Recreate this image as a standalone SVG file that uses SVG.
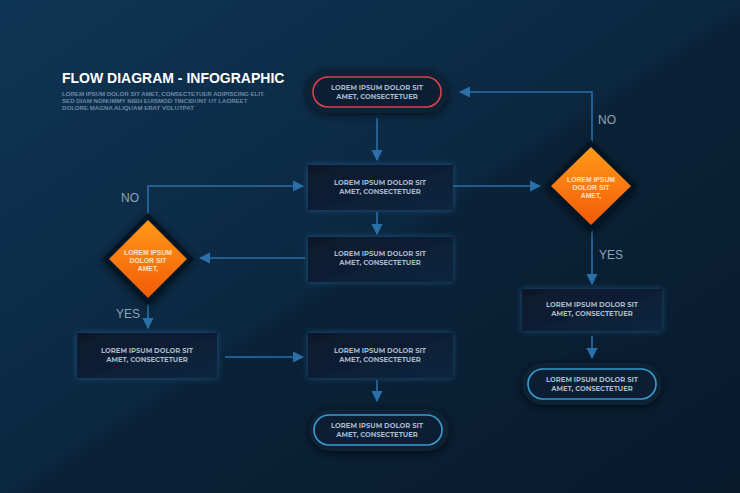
<svg xmlns="http://www.w3.org/2000/svg" width="740" height="493" viewBox="0 0 740 493">
<defs>
<linearGradient id="bg" x1="0" y1="0" x2="1" y2="1">
<stop offset="0" stop-color="#0f3554"/><stop offset="0.5" stop-color="#0b2740"/><stop offset="0.52" stop-color="#0a2238"/><stop offset="1" stop-color="#081a2c"/>
</linearGradient>
<linearGradient id="box" x1="0" y1="0" x2="1" y2="1"><stop offset="0" stop-color="#07182a"/><stop offset="1" stop-color="#0c2640"/></linearGradient>
<linearGradient id="dia" x1="0" y1="0" x2="0" y2="1"><stop offset="0" stop-color="#ff9a1a"/><stop offset="1" stop-color="#f25a06"/></linearGradient>
<filter id="glow" x="-30%" y="-30%" width="160%" height="160%"><feDropShadow dx="0" dy="0" stdDeviation="3" flood-color="#2a6fa8" flood-opacity="0.6"/></filter>
<filter id="sh" x="-30%" y="-30%" width="160%" height="160%"><feDropShadow dx="0" dy="2" stdDeviation="4" flood-color="#000" flood-opacity="0.6"/></filter>
<marker id="ah" viewBox="0 0 10 10" refX="9" refY="5" markerWidth="7" markerHeight="7" orient="auto"><path d="M0,0L10,5L0,10z" fill="#2b6fa8"/></marker>
</defs>
<style>
.t{font-family:"Montserrat","Liberation Sans",sans-serif;font-weight:bold;font-size:6.8px;fill:#aab8c8;text-anchor:middle}
.dt{font-family:"Liberation Sans",sans-serif;font-weight:bold;font-size:6.8px;fill:#ffe2c8;text-anchor:middle}
.lbl{font-family:"Liberation Sans",sans-serif;font-size:12px;fill:#8fa3b8}
.c{fill:none;stroke:#2b6fa8;stroke-width:1.6;marker-end:url(#ah)}
.bx{fill:url(#box);filter:url(#glow)}
</style>
<rect width="740" height="493" fill="url(#bg)"/>
<g id="title">
<text x="62" y="83" font-family="Liberation Sans,sans-serif" font-weight="bold" font-size="14" fill="#ffffff">FLOW DIAGRAM - INFOGRAPHIC</text>
<g font-family="Liberation Sans,sans-serif" font-weight="bold" font-size="6.1" fill="#6f88a4">
<text x="62" y="96">LOREM IPSUM DOLOR SIT AMET, CONSECTETUER ADIPISCING ELIT,</text>
<text x="62" y="103">SED DIAM NONUMMY NIBH EUISMOD TINCIDUNT UT LAOREET</text>
<text x="62" y="110">DOLORE MAGNA ALIQUAM ERAT VOLUTPAT</text>
</g>
</g>
<g id="connectors">
<path class="c" d="M377,118V160"/>
<path class="c" d="M453,186H540"/>
<path class="c" d="M592,145V92H460"/>
<path class="c" d="M592,227V284"/>
<path class="c" d="M592,336V358"/>
<path class="c" d="M377,212V234"/>
<path class="c" d="M305,258H200"/>
<path class="c" d="M148,218V186H303"/>
<path class="c" d="M148,298V328"/>
<path class="c" d="M225,357H303"/>
<path class="c" d="M377,380V401"/>
<text class="lbl" x="598" y="124">NO</text>
<text class="lbl" x="599" y="259">YES</text>
<text class="lbl" x="121" y="202">NO</text>
<text class="lbl" x="116" y="318">YES</text>
</g>
<g id="start">
<rect x="306" y="70" width="142" height="43" rx="21.5" fill="#0a2036" filter="url(#sh)"/>
<rect x="313" y="77" width="128" height="30" rx="15" fill="#0b1e33" stroke="#d9434d" stroke-width="1.6"/>
<text class="t" x="377" y="90">LOREM IPSUM DOLOR SIT</text><text class="t" x="377" y="99">AMET, CONSECTETUER</text>
</g>
<g id="box1"><rect class="bx" x="308" y="165" width="145" height="45"/>
<text class="t" x="380" y="185">LOREM IPSUM DOLOR SIT</text><text class="t" x="380" y="194">AMET, CONSECTETUER</text></g>
<g id="box2"><rect class="bx" x="308" y="237" width="145" height="45"/>
<text class="t" x="380" y="256">LOREM IPSUM DOLOR SIT</text><text class="t" x="380" y="265">AMET, CONSECTETUER</text></g>
<g id="box3"><rect class="bx" x="308" y="333" width="145" height="45"/>
<text class="t" x="380" y="353">LOREM IPSUM DOLOR SIT</text><text class="t" x="380" y="362">AMET, CONSECTETUER</text></g>
<g id="boxLeft"><rect class="bx" x="77" y="333" width="140" height="45"/>
<text class="t" x="147" y="353">LOREM IPSUM DOLOR SIT</text><text class="t" x="147" y="362">AMET, CONSECTETUER</text></g>
<g id="boxRight"><rect class="bx" x="522" y="289" width="140" height="42"/>
<text class="t" x="592" y="307">LOREM IPSUM DOLOR SIT</text><text class="t" x="592" y="316">AMET, CONSECTETUER</text></g>
<g id="endBottom">
<rect x="309" y="409" width="140" height="42" rx="21" fill="#0a2036" filter="url(#sh)"/>
<rect x="314" y="415" width="128" height="30" rx="15" fill="#0b1e33" stroke="#3a9bd0" stroke-width="1.6"/>
<text class="t" x="377" y="428">LOREM IPSUM DOLOR SIT</text><text class="t" x="377" y="437">AMET, CONSECTETUER</text>
</g>
<g id="endRight">
<rect x="522" y="363" width="140" height="42" rx="21" fill="#0a2036" filter="url(#sh)"/>
<rect x="528" y="369" width="128" height="30" rx="15" fill="#0b1e33" stroke="#3a9bd0" stroke-width="1.6"/>
<text class="t" x="592" y="382">LOREM IPSUM DOLOR SIT</text><text class="t" x="592" y="391">AMET, CONSECTETUER</text>
</g>
<g id="diamondRight">
<path d="M591,140L637,186L591,232L545,186z" fill="#061626" filter="url(#sh)"/>
<path d="M591,147L631,186L591,225L551,186z" fill="url(#dia)"/>
<text class="dt" x="591" y="182">LOREM IPSUM</text><text class="dt" x="591" y="190">DOLOR SIT</text><text class="dt" x="591" y="198">AMET,</text>
</g>
<g id="diamondLeft">
<path d="M148,213L194,259L148,305L102,259z" fill="#061626" filter="url(#sh)"/>
<path d="M148,220L187,259L148,298L109,259z" fill="url(#dia)"/>
<text class="dt" x="148" y="255">LOREM IPSUM</text><text class="dt" x="148" y="263">DOLOR SIT</text><text class="dt" x="148" y="271">AMET,</text>
</g>
</svg>
